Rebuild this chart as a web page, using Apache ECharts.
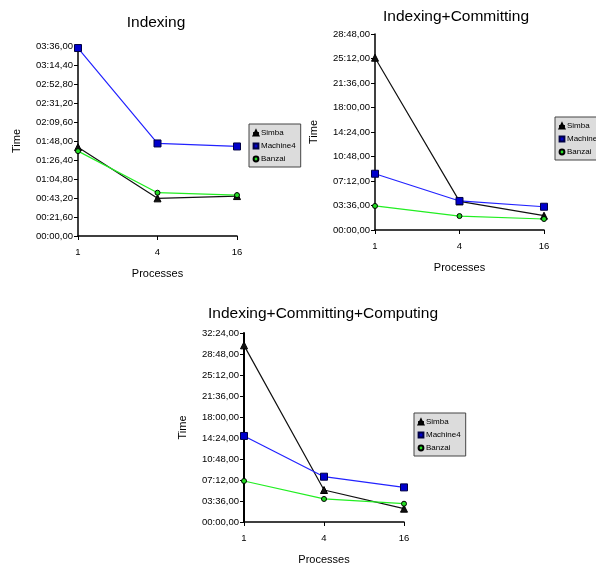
<!DOCTYPE html>
<html><head><meta charset="utf-8">
<script src="https://cdn.jsdelivr.net/npm/echarts@6/dist/echarts.min.js"></script>
<style>html,body{margin:0;padding:0;background:#fff}#c{width:596px;height:568px}</style>
</head><body><div id="c"></div>
<script>
// Categories (number of processes)
const processes = ['1', '4', '16'];
const seriesNames = ['Simba', 'Machine4', 'Banzai'];
const chartTitles = ['Indexing', 'Indexing+Committing', 'Indexing+Committing+Computing'];

// Times in seconds
const indexingSimba = [101, 42.8, 45.4];
const indexingMachine4 = [213.7, 105.2, 101.8];
const indexingBanzai = [96.5, 49.2, 46.5];

const committingSimba = [1519, 252, 126];
const committingMachine4 = [496, 256, 205];
const committingBanzai = [212, 123, 97];

const computingSimba = [1817, 329, 137];
const computingMachine4 = [885, 466, 356];
const computingBanzai = [422, 237, 188];

// Y axis ranges (seconds)
const yMax = [216, 1728, 1944];
const yInterval = [21.6, 216, 216];

const data = [
  [indexingSimba, indexingMachine4, indexingBanzai],
  [committingSimba, committingMachine4, committingBanzai],
  [computingSimba, computingMachine4, computingBanzai]
];

function fmt(v) {
  const cs = Math.round(v * 100);
  const m = Math.floor(cs / 6000);
  const s = Math.floor((cs % 6000) / 100);
  const f = cs % 100;
  const p = n => (n < 10 ? '0' : '') + n;
  return p(m) + ':' + p(s) + ',' + p(f);
}

const FONT = '"Liberation Sans", Arial, sans-serif';
const grids = [
  {left: 78, top: 46, width: 159, height: 190},
  {left: 375, top: 34, width: 169, height: 196},
  {left: 244, top: 333, width: 160, height: 189}
];
const titlePos = [{x: 151, y: 10}, {x: 451, y: 4}, {x: 318, y: 301}];
const legendPos = [{left: 249, top: 124}, {left: 555, top: 117}, {left: 414, top: 413}];

const styles = {
  Simba: {symbol: 'triangle', size: 7, line: '#111', fill: '#111', border: '#000'},
  Machine4: {symbol: 'rect', size: 7, line: '#2222ff', fill: '#0000cc', border: '#000044'},
  Banzai: {symbol: 'circle', size: 5, line: '#22ee22', fill: '#22dd22', border: '#000'}
};

const option = {
  animation: false,
  backgroundColor: '#fff',
  title: chartTitles.map((t, i) => ({
    text: t, left: titlePos[i].x, top: titlePos[i].y, textAlign: 'center',
    textStyle: {fontFamily: FONT, fontSize: 15.5, fontWeight: 'normal', color: '#000'}
  })),
  grid: grids,
  legend: legendPos.map(p => ({
    left: p.left, top: p.top, orient: 'vertical',
    data: seriesNames, itemWidth: 6, itemHeight: 6, itemGap: 5,
    padding: [5, 5, 4, 3], backgroundColor: '#dcdcdc', borderColor: '#444', borderWidth: 1,
    borderRadius: 0,
    textStyle: {fontFamily: FONT, fontSize: 8, color: '#000', padding: [0, 0, 0, -3]}
  })),
  xAxis: grids.map((g, i) => ({
    gridIndex: i, type: 'category', data: processes, boundaryGap: false,
    name: 'Processes', nameLocation: 'middle', nameGap: 32,
    nameTextStyle: {fontFamily: FONT, fontSize: 11, color: '#000'},
    axisLine: {lineStyle: {color: '#000', width: 1.5}},
    axisTick: {length: 4, lineStyle: {color: '#000'}},
    axisLabel: {fontFamily: FONT, fontSize: 9.5, color: '#000', margin: 11},
    splitLine: {show: false}
  })),
  yAxis: grids.map((g, i) => ({
    gridIndex: i, type: 'value', min: 0, max: yMax[i], interval: yInterval[i],
    name: 'Time', nameLocation: 'middle', nameGap: 56,
    nameTextStyle: {fontFamily: FONT, fontSize: 11, color: '#000'},
    axisLine: {show: true, lineStyle: {color: '#000', width: i === 2 ? 2 : 1.5}},
    axisTick: {show: true, length: 4, lineStyle: {color: '#000'}},
    axisLabel: {fontFamily: FONT, fontSize: 9.5, color: '#000', margin: 5, formatter: fmt},
    splitLine: {show: false}
  })),
  series: []
};

data.forEach((group, gi) => {
  group.forEach((vals, si) => {
    const name = seriesNames[si];
    const st = styles[name];
    option.series.push({
      name: name, type: 'line', xAxisIndex: gi, yAxisIndex: gi, data: vals,
      symbol: st.symbol, symbolSize: st.size, showAllSymbol: true,
      lineStyle: {color: st.line, width: 1.2},
      itemStyle: {color: st.fill, borderColor: st.border, borderWidth: 1},
      z: si === 1 ? 3 : 2
    });
  });
});

const chart = echarts.init(document.getElementById('c'), null, {renderer: 'canvas'});
chart.setOption(option);
</script></body></html>
